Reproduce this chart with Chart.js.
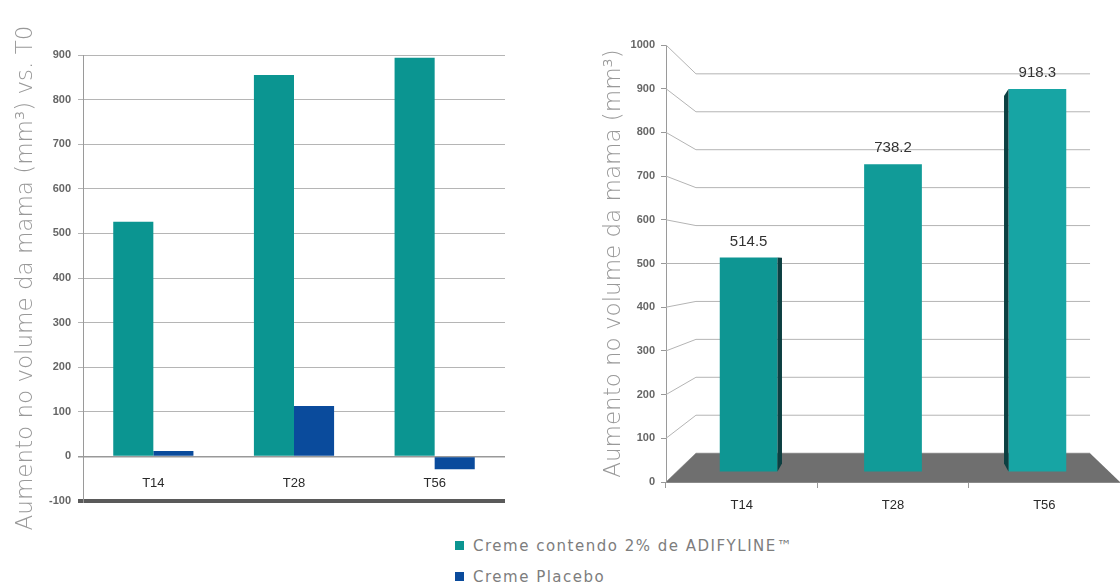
<!DOCTYPE html>
<html>
<head>
<meta charset="utf-8">
<script src="https://cdn.jsdelivr.net/npm/chart.js@4.4.1/dist/chart.umd.min.js"></script>
<style>
  html, body { margin: 0; padding: 0; background: #fff; }
  body { width: 1120px; height: 584px; position: relative; overflow: hidden; font-family: 'DejaVu Sans', sans-serif; }
  #left  { position: absolute; left: 0; top: 0; }
  #right { position: absolute; left: 590px; top: 0; }
  #legend { position: absolute; left: 455px; top: 530px; color: #7d7d7d; font-size: 15px; letter-spacing: 1.5px; }
  .item { height: 31px; display: flex; align-items: center; }
  .sw { width: 9px; height: 9px; margin-right: 9px; }
</style>
</head>
<body>
<canvas id="left" width="540" height="530"></canvas>
<canvas id="right" width="530" height="530"></canvas>
<div id="legend"></div>

<script>
/* ── data ───────────────────────────── */
const periods      = ['T14', 'T28', 'T56'];
const seriesNames  = ['Creme contendo 2% de ADIFYLINE™', 'Creme Placebo'];
const adifylineGain = [526, 855, 894];      // left panel, active cream
const placeboGain   = [12, 113, -29];       // left panel, placebo
const adifylineMean = [514.5, 738.2, 918.3]; // right panel, labelled bars
const leftRange  = [-100, 900, 100];        // min, max, step
const rightRange = [0, 1000, 100];

/* ── styles ─────────────────────────── */
const TEAL = '#0b9591';
const BLUE = '#0a4b9c';
const TEAL_3D = ['#0e9693', '#119b98', '#17a5a4'];
const SIDE = '#0c3f41';
const tickFont = { family: "'Liberation Sans', Arial, sans-serif", size: 11, weight: 'bold' };
const catFont  = { family: "'Liberation Sans', Arial, sans-serif", size: 13 };
const titleFont = { family: "'DejaVu Sans', sans-serif", size: 23, weight: 200 };
const plainTick = v => String(v);

/* ── legend ─────────────────────────── */
const legend = document.getElementById('legend');
[TEAL, BLUE].forEach((c, i) => {
  const row = document.createElement('div');
  row.className = 'item';
  row.innerHTML = `<span class="sw" style="background:${c}"></span><span>${seriesNames[i]}</span>`;
  legend.appendChild(row);
});

/* ── left: grouped bars ─────────────── */
new Chart(document.getElementById('left'), {
  type: 'bar',
  data: {
    labels: periods,
    datasets: [
      { label: seriesNames[0], data: adifylineGain, backgroundColor: TEAL },
      { label: seriesNames[1], data: placeboGain, backgroundColor: BLUE }
    ]
  },
  options: {
    responsive: false, animation: false,
    layout: { padding: { top: 55, right: 35, bottom: 29, left: 0 } },
    plugins: { legend: { display: false }, tooltip: { enabled: false } },
    datasets: { bar: { categoryPercentage: 0.57, barPercentage: 1 } },
    scales: {
      x: {
        position: { y: 0 },
        grid: { display: false, drawTicks: false },
        border: { display: false },
        ticks: { padding: 19, font: catFont, color: '#2a2a2a' },
        afterFit: s => { s.height = 0; }
      },
      y: {
        min: leftRange[0], max: leftRange[1],
        ticks: { stepSize: leftRange[2], padding: 7, font: tickFont, color: '#666', callback: plainTick },
        grid: {
          tickLength: 5,
          color: c => c.tick.value === leftRange[0] ? '#5a5a5a' : (c.tick.value === 0 ? '#999' : '#b5b5b5'),
          lineWidth: c => c.tick.value === leftRange[0] ? 4 : (c.tick.value === 0 ? 1.5 : 1)
        },
        border: { color: '#9a9a9a' },
        title: { display: true, text: 'Aumento no volume da mama (mm³) vs. T0', font: titleFont, color: '#999', padding: { top: 12, bottom: 0 } },
        afterFit: s => { s.width = 83; }
      }
    }
  }
});

/* ── right: bars in a perspective box ─ */
const K_BACK = 0.868;  // back wall depth
const K_MID  = 0.954;  // front face of the bars
const K_REAR = 0.917;  // rear face of the bars

function vp(ca) { return [(ca.left + ca.right) / 2, (ca.top + ca.bottom) / 2]; }
function proj(ca, x, y, k) {
  const [vx, vy] = vp(ca);
  return [vx + (x - vx) * k, vy + (y - vy) * k];
}

const boxPlugin = {
  id: 'box3d',
  beforeDatasetsDraw(chart) {
    const { ctx, chartArea: ca, scales: { y } } = chart;
    ctx.save();
    // wall grid + diagonal links back to the front axis
    ctx.strokeStyle = '#b4b4b4';
    ctx.lineWidth = 1;
    y.ticks.forEach(t => {
      const py = y.getPixelForValue(t.value);
      const [bx, by] = proj(ca, ca.left, py, K_BACK);
      const [ex] = proj(ca, ca.right, py, K_BACK);
      ctx.beginPath();
      ctx.moveTo(ca.left, py);
      ctx.lineTo(bx, by);
      ctx.lineTo(ex, by);
      ctx.stroke();
    });
    // floor
    const b = y.getPixelForValue(0);
    const [blx, bly] = proj(ca, ca.left, b, K_BACK);
    const [brx] = proj(ca, ca.right, b, K_BACK);
    ctx.fillStyle = '#6f6f6f';
    ctx.beginPath();
    ctx.moveTo(ca.left, b);
    ctx.lineTo(ca.right, b);
    ctx.lineTo(brx, bly);
    ctx.lineTo(blx, bly);
    ctx.closePath();
    ctx.fill();
    ctx.restore();

    // push the bars into the box
    const [vx, vy] = vp(ca);
    ctx.save();
    ctx.translate(vx, vy);
    ctx.scale(K_MID, K_MID);
    ctx.translate(-vx, -vy);
  },
  afterDatasetsDraw(chart) {
    const { ctx, chartArea: ca } = chart;
    ctx.restore();
    const [vx] = vp(ca);
    const meta = chart.getDatasetMeta(0);
    ctx.save();
    meta.data.forEach((bar, i) => {
      const half = bar.width / 2;
      const edge = bar.x < vx ? bar.x + half : bar.x - half;
      const [x1, t1] = proj(ca, edge, bar.y, K_MID);
      const [x2, t2] = proj(ca, edge, bar.y, K_REAR);
      const [, b1] = proj(ca, edge, bar.base, K_MID);
      const [, b2] = proj(ca, edge, bar.base, K_REAR);
      if (Math.abs(x2 - x1) >= 1.5) {
        ctx.fillStyle = SIDE;
        ctx.beginPath();
        ctx.moveTo(x1, t1);
        ctx.lineTo(x2, t2);
        ctx.lineTo(x2, b2);
        ctx.lineTo(x1, b1);
        ctx.closePath();
        ctx.fill();
      }
      const [lx, ly] = proj(ca, bar.x, bar.y, K_MID);
      ctx.fillStyle = '#333';
      ctx.font = "15px 'Liberation Sans', Arial, sans-serif";
      ctx.textAlign = 'center';
      ctx.textBaseline = 'middle';
      ctx.fillText(adifylineMean[i].toFixed(1), lx, ly - 16);
    });
    ctx.restore();
  }
};

new Chart(document.getElementById('right'), {
  type: 'bar',
  data: {
    labels: periods,
    datasets: [{ label: seriesNames[0], data: adifylineMean, backgroundColor: TEAL_3D }]
  },
  options: {
    responsive: false, animation: false,
    layout: { padding: { top: 45, right: 0, bottom: 0, left: 0 } },
    plugins: { legend: { display: false }, tooltip: { enabled: false } },
    datasets: { bar: { categoryPercentage: 0.4, barPercentage: 1 } },
    scales: {
      x: {
        grid: { drawOnChartArea: false, tickLength: 6, color: '#999' },
        border: { color: '#8a8a8a' },
        ticks: { padding: 10, font: catFont, color: '#2a2a2a' },
        afterFit: s => { s.height = 48; }
      },
      y: {
        min: rightRange[0], max: rightRange[1],
        ticks: { stepSize: rightRange[2], padding: 6, font: tickFont, color: '#666', callback: plainTick },
        grid: { drawOnChartArea: false, tickLength: 5, color: '#999' },
        border: { color: '#9a9a9a' },
        title: { display: true, text: 'Aumento no volume da mama (mm³)', font: titleFont, color: '#999', padding: { top: 10, bottom: 0 } },
        afterFit: s => { s.width = 76; }
      }
    }
  },
  plugins: [boxPlugin]
});
</script>
</body>
</html>
